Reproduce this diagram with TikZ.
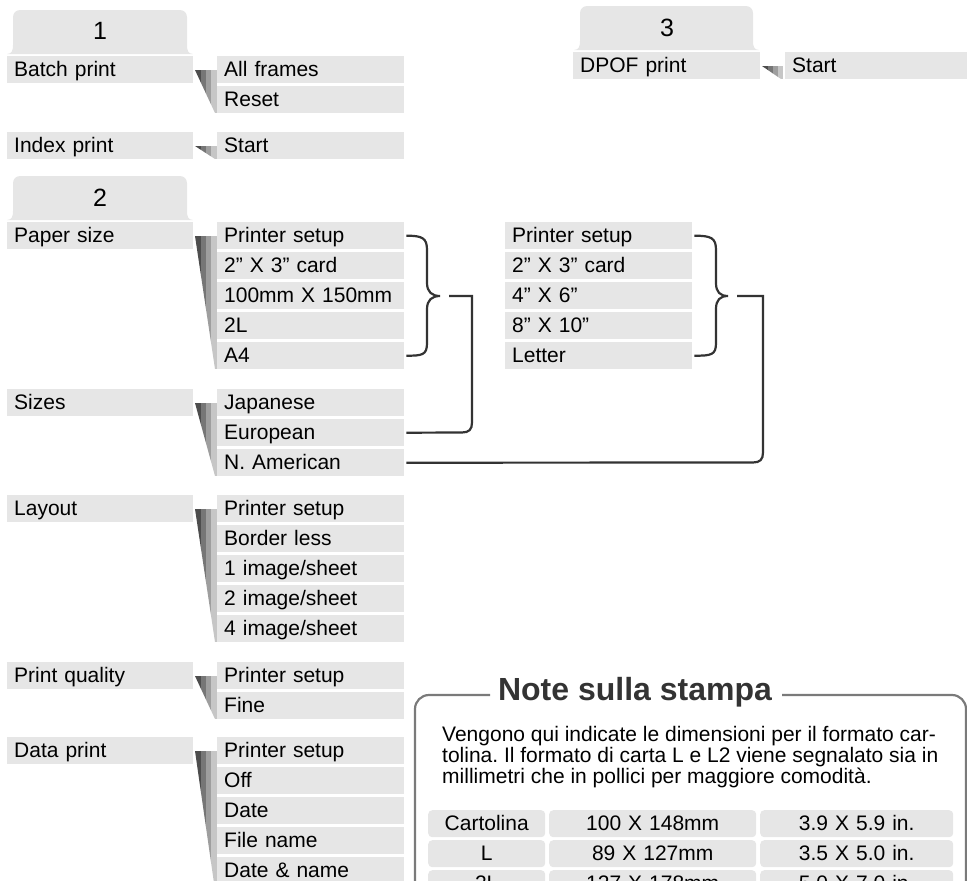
\documentclass[tikz,border=0pt]{standalone}
\usepackage{fontspec}
\setmainfont{Liberation Sans}
\frenchspacing
\definecolor{barfill}{HTML}{E6E6E6}
\definecolor{wA}{HTML}{4D4D4D}
\definecolor{wB}{HTML}{767676}
\definecolor{wC}{HTML}{9E9E9E}
\definecolor{wD}{HTML}{C6C6C6}
\definecolor{darkline}{HTML}{333333}
\definecolor{boxline}{HTML}{7A7A7A}
\definecolor{titlecol}{HTML}{333333}
\newcommand\wedgeshape[4]{%
  \begin{scope}
    \clip (#1,#3) -- (#2,#3) -- (#2,#4) -- ({#2-2},#4) -- cycle;
    \fill[wA] (#1,#3) rectangle ({#1+6},#4);
    \fill[wB] ({#1+6},#3) rectangle ({#1+11},#4);
    \fill[wC] ({#1+11},#3) rectangle ({#1+16},#4);
    \fill[wD] ({#1+16},#3) rectangle (#2,#4);
  \end{scope}}
\newcommand\tabshape[4]{%
  \fill[barfill] ({#1-6},#4) .. controls ({#1-1},#4) and (#1,{#4-4}) .. (#1,{#4-9})
    -- (#1,{#3+7}) arc[start angle=180,end angle=270,radius=7]
    -- ({#2-7},#3) arc[start angle=270,end angle=360,radius=7]
    -- (#2,{#4-9}) .. controls (#2,{#4-4}) and ({#2+1},#4) .. ({#2+6},#4) -- cycle;}
\tikzset{
  mfont/.style={font=\fontsize{21pt}{21pt}\selectfont},
  mbar/.style={mfont, fill=barfill, anchor=north west, inner xsep=7pt, inner ysep=0pt,
    text height=20pt, text depth=7pt, align=left},
  colA/.style={mbar, text width=172pt},
  colB/.style={mbar, text width=173pt},
  cell/.style={mfont, fill=barfill, rounded corners=4pt, anchor=north west, inner sep=0pt,
    text height=20pt, text depth=7pt, align=center},
  conn/.style={draw=darkline, line width=2.2pt},
  bline/.style={draw=boxline, line width=2.2pt},
  tabnum/.style={font=\fontsize{25pt}{25pt}\selectfont, anchor=base, inner sep=0pt},
  bodytext/.style={mfont, anchor=base west, inner sep=0pt}
}
\begin{document}
\begin{tikzpicture}[x=1pt,y=-1pt]
\useasboundingbox (0,0) rectangle (967,881);
\clip (0,0) rectangle (967,881);
% tabs
\tabshape{13}{187}{10}{54}
\node[tabnum] (tab1) at (100,39) {1};
\tabshape{13}{187}{176}{220}
\node[tabnum] (tab2) at (100,206) {2};
\tabshape{580}{753}{6}{50}
\node[tabnum] (tab3) at (667,36) {3};
% section 1
\node[colA] (bp) at (7,56) {Batch print};
\node[colB] (bpa) at (217,56) {All frames};
\node[colB] (bpb) at (217,86) {Reset};
\wedgeshape{195}{217}{70}{113}
\node[colA] (ip) at (7,132) {Index print};
\node[colB] (ipa) at (217,132) {Start};
\wedgeshape{195}{217}{146}{159}
% section 3
\node[mbar, text width=173pt] (dp) at (573,52) {DPOF print};
\node[mbar, text width=168pt] (dpa) at (785,52) {Start};
\wedgeshape{762}{783}{66}{79}
% section 2
\node[colA] (ps) at (7,222) {Paper size};
\node[colB] (p1) at (217,222) {Printer setup};
\node[colB] (p2) at (217,252) {2” X 3” card};
\node[colB] (p3) at (217,282) {100mm X 150mm};
\node[colB] (p4) at (217,312) {2L};
\node[colB] (p5) at (217,342) {A4};
\wedgeshape{195}{217}{236}{369}
\node[colB] (c1) at (505,222) {Printer setup};
\node[colB] (c2) at (505,252) {2” X 3” card};
\node[colB] (c3) at (505,282) {4” X 6”};
\node[colB] (c4) at (505,312) {8” X 10”};
\node[colB] (c5) at (505,342) {Letter};
\node[colA] (sz) at (7,389) {Sizes};
\node[colB] (jp) at (217,389) {Japanese};
\node[colB] (eu) at (217,419) {European};
\node[colB] (na) at (217,449) {N. American};
\wedgeshape{195}{217}{403}{476}
\node[colA] (ly) at (7,495) {Layout};
\node[colB] (l1) at (217,495) {Printer setup};
\node[colB] (l2) at (217,525) {Border less};
\node[colB] (l3) at (217,555) {1 image/sheet};
\node[colB] (l4) at (217,585) {2 image/sheet};
\node[colB] (l5) at (217,615) {4 image/sheet};
\wedgeshape{195}{217}{509}{642}
\node[colA] (pq) at (7,662) {Print quality};
\node[colB] (q1) at (217,662) {Printer setup};
\node[colB] (q2) at (217,692) {Fine};
\wedgeshape{195}{217}{676}{719}
\node[colA] (dt) at (7,737) {Data print};
\node[colB] (d1) at (217,737) {Printer setup};
\node[colB] (d2) at (217,767) {Off};
\node[colB] (d3) at (217,797) {Date};
\node[colB] (d4) at (217,827) {File name};
\node[colB] (d5) at (217,857) {Date \& name};
\wedgeshape{195}{217}{751}{890}
% braces and connectors
\coordinate (br1) at (440,296);
\coordinate (k1) at (449,296);
\coordinate (br2) at (728,296);
\coordinate (k2) at (737,296);
\draw[conn] ([xshift=2pt]p1.east) .. controls +(16,0) and +(0,-12) .. (427,250) -- (427,283)
  .. controls +(0,9) and +(-8,0) .. (br1)
  .. controls +(-8,0) and +(0,-9) .. (427,309) -- (427,343)
  .. controls +(0,12) and +(16,0) .. ([xshift=2pt]p5.east);
\draw[conn] ([xshift=2pt]c1.east) .. controls +(17,0) and +(0,-12) .. (716,250) -- (716,283)
  .. controls +(0,9) and +(-8,0) .. (br2)
  .. controls +(-8,0) and +(0,-9) .. (716,309) -- (716,343)
  .. controls +(0,12) and +(17,0) .. ([xshift=2pt]c5.east);
\draw[conn] ([xshift=2pt]eu.east) -- (462,432.5) .. controls (469,432.5) and (472,429.5) .. (472,422.5)
  -- (472,296) -- (k1);
\draw[conn] ([xshift=2pt]na.east) -- (753,462.5) .. controls (760,462.5) and (763,459.5) .. (763,452.5)
  -- (763,296) -- (k2);
% note box
\node[font=\fontsize{32pt}{32pt}\selectfont\bfseries, text=titlecol, anchor=base, inner sep=0pt] (nt) at (635,700) {Note sulla stampa};
\draw[bline, rounded corners=14pt] (490,695) -- (415,695) -- (415,900);
\draw[bline, rounded corners=14pt] (782,695) -- (966,695) -- (966,900);
\node[bodytext] (t1) at (442,741) {Vengono qui indicate le dimensioni per il formato car-};
\node[bodytext] (t2) at (442,762) {tolina. Il formato di carta L e L2 viene segnalato sia in};
\node[bodytext] (t3) at (442,783) {millimetri che in pollici per maggiore comodità.};
\node[cell, minimum width=117pt, text width=117pt] (r1a) at (428,810) {Cartolina};
\node[cell, minimum width=207pt, text width=207pt] (r1b) at (549,810) {100 X 148mm};
\node[cell, minimum width=193pt, text width=193pt] (r1c) at (760,810) {3.9 X 5.9 in.};
\node[cell, minimum width=117pt, text width=117pt] (r2a) at (428,840) {L};
\node[cell, minimum width=207pt, text width=207pt] (r2b) at (549,840) {89 X 127mm};
\node[cell, minimum width=193pt, text width=193pt] (r2c) at (760,840) {3.5 X 5.0 in.};
\node[cell, minimum width=117pt, text width=117pt] (r3a) at (428,870) {2L};
\node[cell, minimum width=207pt, text width=207pt] (r3b) at (549,870) {127 X 178mm};
\node[cell, minimum width=193pt, text width=193pt] (r3c) at (760,870) {5.0 X 7.0 in.};
\end{tikzpicture}
\end{document}
